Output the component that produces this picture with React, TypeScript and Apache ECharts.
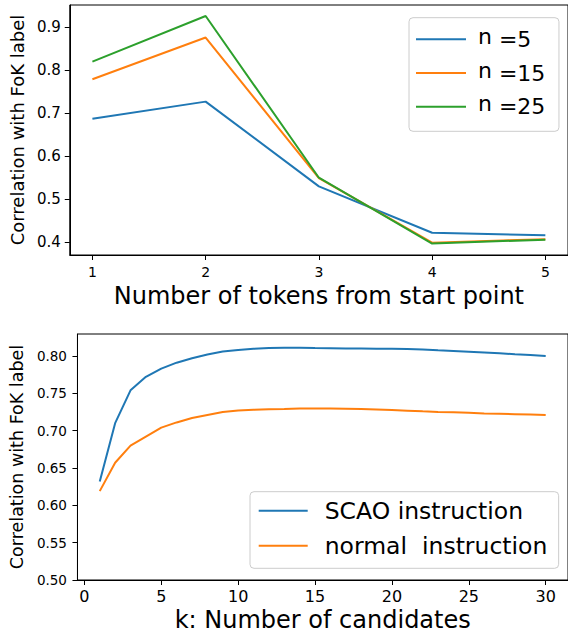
import React, { useEffect, useRef } from "react";
import * as echarts from "echarts";

// ---- Top chart data ----
const tokenPositions = [1, 2, 3, 4, 5];
const nLabels = [5, 15, 25];
const n5Values = [0.686, 0.726, 0.529, 0.421, 0.415];
const n15Values = [0.778, 0.875, 0.548, 0.398, 0.406];
const n25Values = [0.819, 0.925, 0.549, 0.396, 0.405];
const topXTicks = [1, 2, 3, 4, 5];
const topYTicks = [0.4, 0.5, 0.6, 0.7, 0.8, 0.9];

// ---- Bottom chart data ----
const kValues = [
  1, 2, 3, 4, 5, 6, 7, 8, 9, 10, 11, 12, 13, 14, 15, 16, 17, 18, 19, 20, 21, 22,
  23, 24, 25, 26, 27, 28, 29, 30,
];
const scaoValues = [
  0.632, 0.71, 0.754, 0.772, 0.783, 0.791, 0.797, 0.802, 0.806, 0.808, 0.8095,
  0.8105, 0.811, 0.811, 0.8105, 0.8103, 0.81, 0.81, 0.8098, 0.8097, 0.8093,
  0.8085, 0.8075, 0.8066, 0.8057, 0.8046, 0.8035, 0.8023, 0.8012, 0.8,
];
const normalValues = [
  0.619, 0.657, 0.68, 0.692, 0.704, 0.711, 0.717, 0.721, 0.725, 0.727, 0.728,
  0.7287, 0.729, 0.7295, 0.7297, 0.7297, 0.7294, 0.729, 0.7283, 0.7275, 0.7267,
  0.7258, 0.725, 0.7245, 0.7238, 0.723, 0.7225, 0.722, 0.7215, 0.721,
];
const bottomXTicks = [0, 5, 10, 15, 20, 25, 30];
const bottomYTicks = [0.5, 0.55, 0.6, 0.65, 0.7, 0.75, 0.8];
const bottomNames = ["SCAO instruction", "normal  instruction"];

const COLORS = ["#1f77b4", "#ff7f0e", "#2ca02c"];
const FONT = "DejaVu Sans";

const zip = (xs: number[], ys: number[]) => xs.map((x, i) => [x, ys[i]]);

const axisCommon = (fontSize: number, margin: number) => ({
  axisLine: { show: true, onZero: false, lineStyle: { color: "#000", width: 1 } },
  axisTick: { show: true, length: 5, lineStyle: { color: "#000", width: 1 } },
  axisLabel: { color: "#000", fontSize, margin, fontFamily: FONT },
  splitLine: { show: false },
});

export default function App() {
  const ref = useRef<HTMLDivElement>(null);

  useEffect(() => {
    if (!ref.current) return;
    const chart = echarts.init(ref.current, undefined, { renderer: "svg" });

    const topNames = nLabels.map((n) => `n =${n}`);
    const topData = [n5Values, n15Values, n25Values];

    const mkAxis = (
      base: any,
      ticks: number[],
      fmt: (v: number) => string,
      extra: any
    ) => ({
      ...base,
      axisTick: { ...base.axisTick, customValues: ticks },
      axisLabel: {
        ...base.axisLabel,
        customValues: ticks,
        formatter: (v: number) => fmt(v),
      },
      ...extra,
    });

    const option: any = {
      animation: false,
      backgroundColor: "#fff",
      textStyle: { fontFamily: FONT },
      grid: [
        {
          left: 67,
          top: 5,
          width: 504,
          height: 250,
          show: true,
          borderColor: "#000",
          borderWidth: 1,
          containLabel: false,
        },
        {
          left: 75.5,
          top: 334,
          width: 496,
          height: 246,
          show: true,
          borderColor: "#000",
          borderWidth: 1,
          containLabel: false,
        },
      ],
      xAxis: [
        mkAxis(axisCommon(14, 9.5), topXTicks, (v) => String(v), {
          type: "value",
          gridIndex: 0,
          min: 0.8,
          max: 5.2,
          name: "Number of tokens from start point",
          nameLocation: "middle",
          nameGap: 29,
          nameTextStyle: { fontSize: 24, color: "#000", fontFamily: FONT },
        }),
        mkAxis(axisCommon(16, 8.5), bottomXTicks, (v) => String(v), {
          type: "value",
          gridIndex: 1,
          min: -0.45,
          max: 31.45,
          name: "k: Number of candidates",
          nameLocation: "middle",
          nameGap: 28,
          nameTextStyle: { fontSize: 24, color: "#000", fontFamily: FONT },
        }),
      ],
      yAxis: [
        mkAxis(axisCommon(15, 9), topYTicks, (v) => v.toFixed(1), {
          type: "value",
          gridIndex: 0,
          min: 0.3693,
          max: 0.9507,
          name: "Correlation with FoK label",
          nameLocation: "middle",
          nameGap: 40,
          nameTextStyle: { fontSize: 18, color: "#000", fontFamily: FONT },
        }),
        mkAxis(axisCommon(13.5, 10.5), bottomYTicks, (v) => v.toFixed(2), {
          type: "value",
          gridIndex: 1,
          min: 0.5,
          max: 0.8294,
          name: "Correlation with FoK label",
          nameLocation: "middle",
          nameGap: 48,
          nameTextStyle: { fontSize: 17.5, color: "#000", fontFamily: FONT },
        }),
      ],
      legend: [
        {
          data: topNames,
          orient: "vertical",
          left: 409,
          top: 17.7,
          padding: [7.5, 13.6, 10.5, 7],
          itemGap: 5.8,
          itemWidth: 50,
          itemHeight: 2,
          icon: "rect",
          backgroundColor: "rgba(255,255,255,0.8)",
          borderColor: "#cccccc",
          borderWidth: 1,
          borderRadius: 4,
          textStyle: {
            color: "#000",
            fontFamily: FONT,
            fontSize: 22,
            lineHeight: 26,
            padding: [0, 0, 0, 7],
            rich: {
              n: {
                fontSize: 22,
                fontFamily: FONT,
                color: "#000",
                lineHeight: 18,
                padding: [0, 0, 6, 0],
              },
              v: {
                fontSize: 22,
                fontFamily: FONT,
                color: "#000",
                lineHeight: 26,
              },
            },
          },
          formatter: (name: string) => {
            const v = name.split("=")[1];
            return `{n|n }{v|=${v}}`;
          },
        },
        {
          data: bottomNames,
          orient: "vertical",
          left: 250,
          top: 491.7,
          padding: [5, 11.3, 8.6, 8.7],
          itemGap: 7,
          itemWidth: 49,
          itemHeight: 2,
          icon: "rect",
          backgroundColor: "rgba(255,255,255,0.8)",
          borderColor: "#cccccc",
          borderWidth: 1,
          borderRadius: 4,
          textStyle: {
            color: "#000",
            fontFamily: FONT,
            fontSize: 23.5,
            lineHeight: 28,
            padding: [0, 0, 0, 12],
          },
        },
      ],
      series: [
        ...topNames.map((name, i) => ({
          name,
          type: "line",
          xAxisIndex: 0,
          yAxisIndex: 0,
          data: zip(tokenPositions, topData[i]),
          symbol: "none",
          showSymbol: false,
          lineStyle: { color: COLORS[i], width: 2 },
          itemStyle: { color: COLORS[i] },
        })),
        ...[scaoValues, normalValues].map((vals, i) => ({
          name: bottomNames[i],
          type: "line",
          xAxisIndex: 1,
          yAxisIndex: 1,
          data: zip(kValues, vals),
          symbol: "none",
          showSymbol: false,
          lineStyle: { color: COLORS[i], width: 2 },
          itemStyle: { color: COLORS[i] },
        })),
      ],
    };

    chart.setOption(option);
    return () => chart.dispose();
  }, []);

  return (
    <div
      ref={ref}
      style={{ position: "absolute", left: 0, top: 0, width: 568, height: 637 }}
    />
  );
}
